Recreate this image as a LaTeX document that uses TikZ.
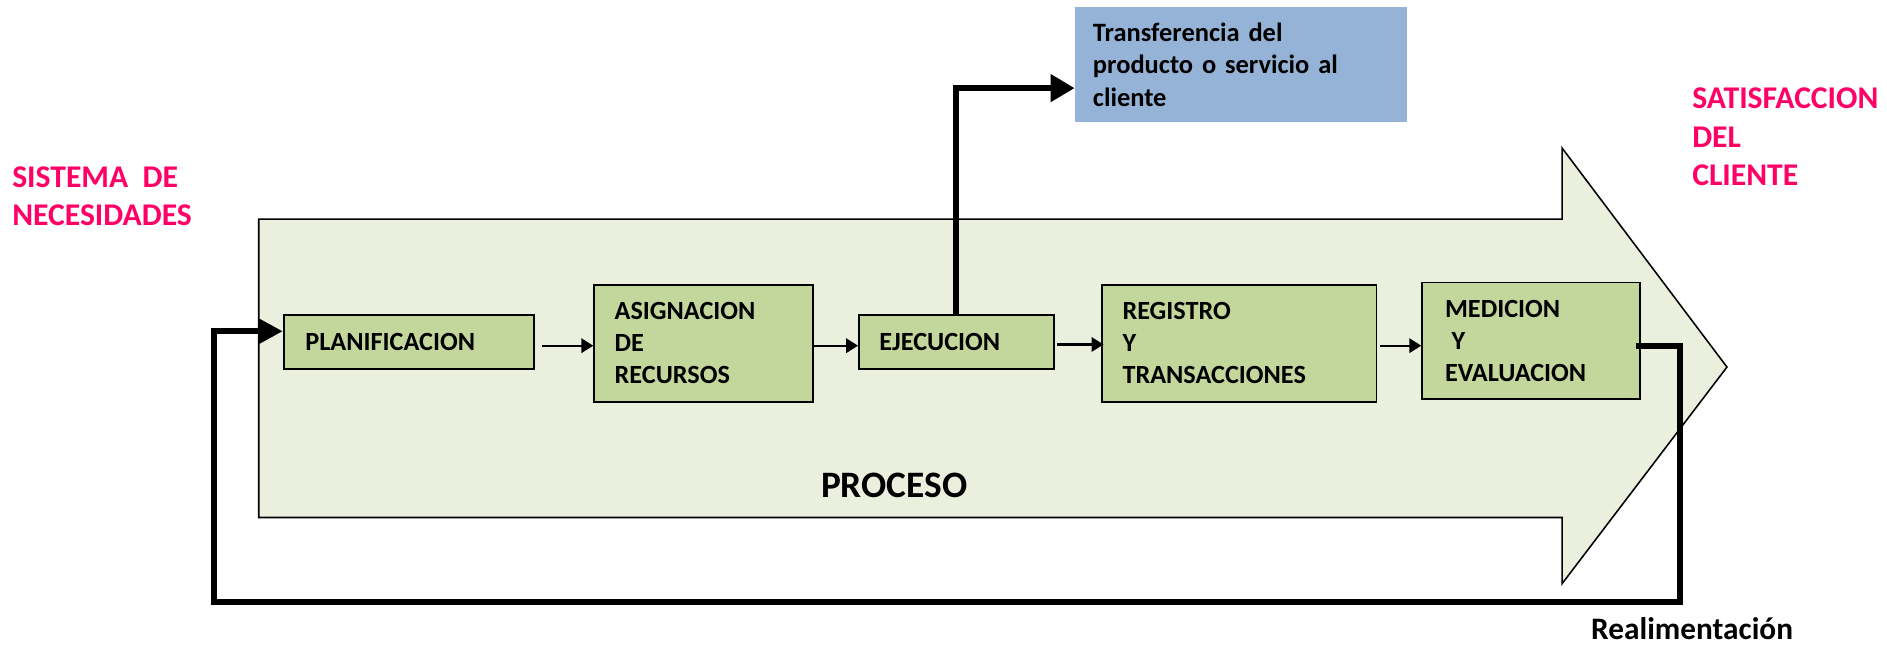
\documentclass[tikz,border=0pt]{standalone}
\usepackage{fontspec}
\setmainfont{Carlito}
\usetikzlibrary{arrows.meta}
\definecolor{pinkt}{HTML}{FF0066}
\definecolor{arrowfill}{HTML}{EBF0DE}
\definecolor{boxgreen}{HTML}{C3D69B}
\definecolor{boxblue}{HTML}{95B3D7}
\begin{document}
\begin{tikzpicture}[x=1pt,y=-1pt,
  gbox/.style={draw, line width=1.5pt, fill=boxgreen, align=left, inner ysep=0pt, anchor=north west,
    font=\bfseries\fontsize{21.8}{26.5}\selectfont},
  sarrow/.style={line width=1.8pt, -{Triangle[length=10pt,width=12pt]}},
  tarrow/.style={line width=5pt, -{Triangle[length=20pt,width=22pt]}},
  pinktxt/.style={text=pinkt, align=left, inner sep=0pt, anchor=north west,
    font=\bfseries\fontsize{26.3}{32}\selectfont}
]
\useasboundingbox (0,0) rectangle (1568,536);
% big process arrow
\draw[fill=arrowfill, line width=1.3pt] (215,182) -- (1298,182) -- (1298,123) -- (1435,305)
  -- (1298,485) -- (1298,430) -- (215,430) -- cycle;
% boxes
\node[gbox, minimum width=208pt, minimum height=45pt, text width=172pt, inner xsep=18pt] (plan) at (235,261) {PLANIFICACION};
\node[gbox, minimum width=182pt, minimum height=97pt, text width=148pt, inner xsep=17pt] (asig) at (493,236) {ASIGNACION\\DE\\RECURSOS};
\node[gbox, minimum width=162pt, minimum height=45pt, text width=128pt, inner xsep=17pt] (ejec) at (713,261) {EJECUCION};
\node[gbox, minimum width=228pt, minimum height=97pt, text width=194pt, inner xsep=17pt] (regi) at (915,236) {REGISTRO\\Y\\TRANSACCIONES};
\node[gbox, minimum width=181pt, minimum height=97pt, text width=143pt, inner xsep=19pt] (medi) at (1181,234) {MEDICION\\\hspace*{0.25em}Y\\EVALUACION};
\node[fill=boxblue, anchor=north west, minimum width=276pt, minimum height=95pt, text width=246pt,
  inner xsep=15pt, inner ysep=0pt, align=left, font=\bfseries\fontsize{22}{27}\selectfont] (trans) at (893,6)
  {Transferencia del\\producto o servicio al\\cliente};
% small arrows
\draw[sarrow] ([xshift=6pt,yshift=-3pt]plan.east) -- ([yshift=-3pt]plan.east -| asig.west);
\draw[sarrow] ([yshift=-2pt]asig.east) -- ([yshift=-2pt]asig.east -| ejec.west);
\draw[sarrow] ([xshift=2pt,yshift=-2pt]ejec.east) -- ([xshift=2pt,yshift=-2pt]ejec.east -| regi.west);
\draw[sarrow] ([xshift=2pt,yshift=-2pt]regi.east) -- ([yshift=-2pt]regi.east -| medi.west);
% thick arrow to transfer box
\coordinate (tin) at ([yshift=-19.5pt]trans.west);
\draw[tarrow] (ejec.north) |- (tin);
% feedback loop
\coordinate (medout) at ([xshift=-4pt,yshift=-4.5pt]medi.east);
\coordinate (fbr) at (1396,500);
\coordinate (fbl) at (178,500);
\coordinate (fbin) at ([yshift=9pt]plan.west);
\draw[line width=5pt, -{Triangle[length=20pt,width=20pt]}] (medout) -| (fbr) -- (fbl) |- (fbin);
% texts
\node[pinktxt] (sis) at (10,138) {SISTEMA\ \ DE\\NECESIDADES};
\node[pinktxt] (sat) at (1406,73) {SATISFACCION\\DEL\\CLIENTE};
\node[font=\bfseries\fontsize{31}{36}\selectfont, inner sep=0pt] (proc) at (743,403) {PROCESO};
\node[font=\bfseries\fontsize{26}{30}\selectfont, inner sep=0pt, anchor=base west] (real) at (1322,531) {Realimentación};
\end{tikzpicture}
\end{document}
